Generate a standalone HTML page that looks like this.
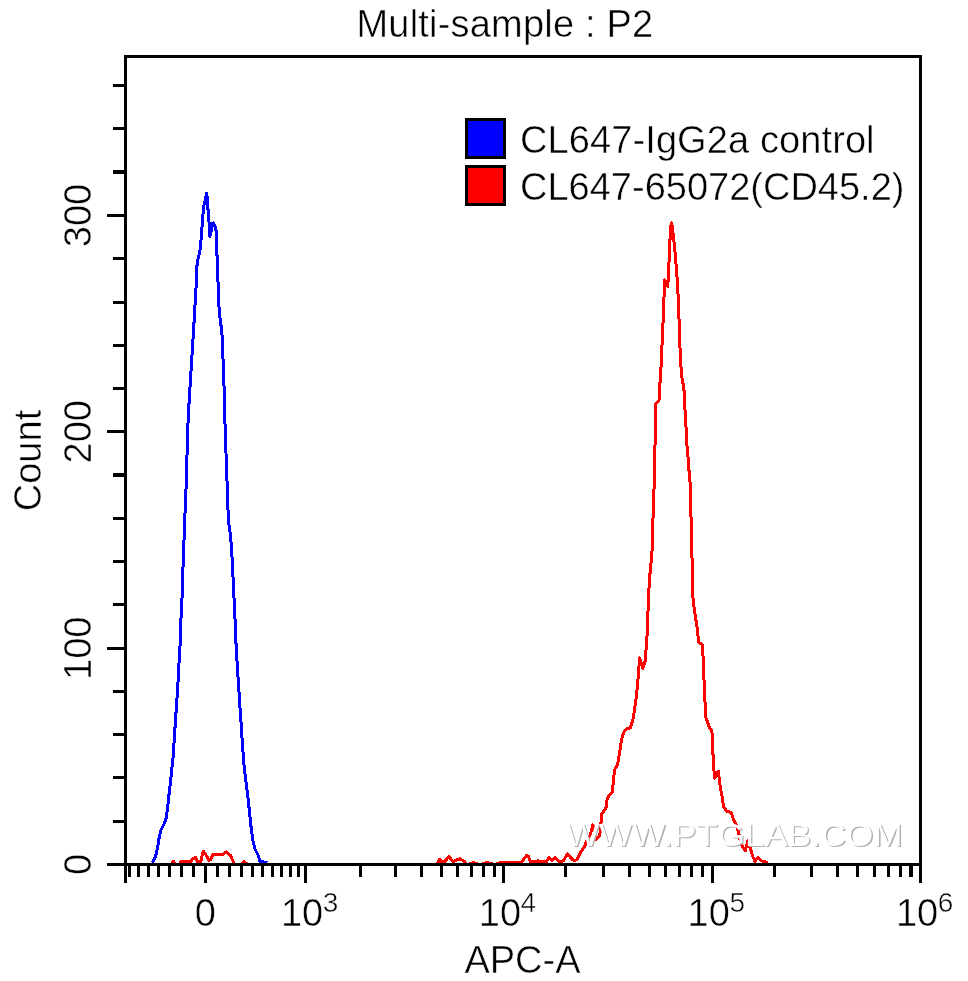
<!DOCTYPE html>
<html><head><meta charset="utf-8"><title>Multi-sample : P2</title>
<style>
html,body{margin:0;padding:0;background:#fff;}
svg{display:block;}
text{font-family:"Liberation Sans",Arial,sans-serif;font-size:38px;fill:#000;stroke:#fff;stroke-width:0.5px;}
.wm text{stroke:none;}
</style></head><body>
<svg width="968" height="981" viewBox="0 0 968 981">
<rect width="968" height="981" fill="#fff"/>
<text x="356.5" y="37" letter-spacing="0.2">Multi-sample : P2</text>
<polyline shape-rendering="crispEdges" fill="none" stroke="#0000ff" stroke-width="3" stroke-linejoin="round" points="152.3,862.8 155.6,856.2 157.6,847.6 159.2,837.4 161.0,830.2 163.9,824.4 166.0,818.6 167.5,808.5 168.9,795.5 170.7,779.6 172.1,766.6 173.3,755.0 174.4,736.7 175.4,721.8 176.4,706.9 177.5,690.8 178.5,673.5 179.5,653.6 180.4,640.0 180.7,624.1 181.9,601.8 182.8,573.3 183.8,546.0 184.7,520.0 185.7,499.2 186.7,466.9 187.6,434.7 188.4,412.4 189.4,398.0 190.4,380.4 191.5,364.3 192.5,346.9 193.6,329.6 194.6,312.2 195.6,294.9 196.5,280.0 196.7,268.8 197.4,261.6 198.2,258.0 199.8,252.3 200.8,243.5 201.8,229.6 202.9,215.1 203.9,205.8 205.5,198.6 206.5,193.5 207.0,195.5 207.7,208.9 208.6,211.0 209.1,224.4 209.9,236.3 211.1,231.7 212.2,223.4 213.7,222.9 215.3,227.5 216.3,231.7 216.8,255.4 217.6,256.4 217.9,280.0 218.6,294.9 219.2,312.2 220.4,320.9 221.9,332.1 222.9,354.4 223.5,379.2 224.4,391.6 224.6,400.0 225.0,423.6 226.0,453.3 226.9,478.1 227.8,501.6 228.3,520.0 230.3,533.6 231.3,546.0 232.3,560.9 233.3,583.2 234.3,604.3 235.3,625.4 235.8,640.0 236.8,657.4 237.8,673.5 238.8,688.3 239.7,703.2 240.7,716.9 241.7,734.2 243.0,751.6 243.6,760.0 244.4,769.5 246.3,783.9 248.2,799.8 249.6,812.9 251.1,827.3 252.8,840.3 255.0,849.0 257.9,854.8 260.0,861.3 267.3,862.8"/>
<polyline shape-rendering="crispEdges" fill="none" stroke="#ff0000" stroke-width="3" stroke-linejoin="round" points="171.1,864.6 173.3,861.3 175.4,864.6 179.0,864.6 181.2,861.3 190.6,861.7 192.8,858.4 195.7,857.7 197.9,862.0 200.7,862.0 203.2,851.2 205.1,853.4 209.1,860.6 210.9,859.1 213.0,854.1 223.2,854.1 226.1,851.9 230.4,855.5 234.7,864.6 241.2,864.6 244.1,861.7 247.8,864.6 419.8,864.6 437.2,864.6 439.7,859.1 442.1,862.2 444.6,861.6 449.0,856.7 453.3,862.2 456.4,859.8 460.1,858.8 464.5,861.6 467.0,864.6 473.0,862.6 480.0,864.6 487.0,862.5 495.0,864.6 500.0,862.7 521.7,862.0 526.7,855.2 528.5,856.5 530.4,862.0 534.7,861.8 538.4,860.8 540.9,862.0 546.5,861.8 549.0,857.7 552.0,860.2 555.2,857.7 558.3,860.8 560.7,862.0 563.2,860.8 567.6,854.0 571.9,859.0 574.4,860.8 576.9,859.6 580.6,852.1 584.9,846.0 586.2,841.6 590.5,834.2 592.9,824.9 596.0,839.8 599.8,835.5 600.7,826.8 601.6,814.4 604.1,810.7 606.0,807.6 607.2,798.3 609.7,794.5 612.5,792.1 613.4,779.7 614.6,769.8 617.7,764.2 619.6,752.4 621.5,740.0 623.5,732.8 626.0,729.1 630.3,727.8 632.8,720.4 634.6,709.3 636.5,695.6 637.7,683.2 638.7,669.6 639.6,657.8 642.7,668.3 645.2,660.9 646.4,644.8 647.3,632.4 647.7,620.0 648.7,593.0 649.7,576.9 650.7,565.7 651.9,554.5 652.8,526.0 653.5,500.0 654.4,481.6 655.2,434.5 655.6,403.6 659.0,400.5 659.6,385.0 660.5,380.0 661.4,357.8 662.7,330.3 663.8,304.6 664.5,279.8 667.8,286.2 668.7,269.7 669.6,247.7 670.6,227.5 671.5,223.0 672.4,227.5 673.9,240.4 675.1,253.2 676.4,267.9 677.3,280.7 678.4,300.9 679.4,330.3 680.3,356.0 681.6,376.1 682.5,380.0 684.1,391.2 685.0,409.8 686.0,427.1 686.9,444.5 688.1,458.1 689.1,471.7 690.3,485.4 690.6,500.0 691.2,523.6 692.1,562.0 693.1,601.6 694.3,609.1 695.8,620.0 696.4,621.0 697.6,632.4 698.8,642.3 702.2,644.8 703.1,657.2 704.0,679.5 705.0,701.8 705.9,717.9 706.8,720.0 709.1,726.9 711.9,730.7 712.6,747.5 713.7,765.9 714.5,778.1 718.3,771.2 719.8,784.2 722.1,796.5 723.6,807.2 726.7,811.0 731.0,812.5 733.6,819.4 736.6,825.5 738.9,833.9 740.5,842.3 742.8,846.9 745.4,850.7 747.8,840.8 750.4,848.4 752.7,856.1 755.0,861.4 757.7,857.6 761.1,860.7 766.5,862.2 768.0,864.6"/>
<defs><filter id="wb" x="-5%" y="-20%" width="110%" height="140%"><feGaussianBlur stdDeviation="0.45"/></filter></defs>
<g class="wm">
<text transform="translate(567.3,847.3) scale(1.13,1)" filter="url(#wb)" style="font-size:31px;fill:#b0b0b0">WWW.PTGLAB.COM</text>
<text transform="translate(566,846.3) scale(1.13,1)" style="font-size:31px;fill:#ffffff">WWW.PTGLAB.COM</text>
</g>
<g fill="#000" shape-rendering="crispEdges">
<rect x="124" y="55" width="3" height="828" />
<rect x="919" y="55" width="3" height="828" />
<rect x="124" y="55" width="798" height="3" />
<rect x="107" y="863" width="815" height="3" />
<rect x="128" y="866" width="3" height="11" />
<rect x="137" y="866" width="3" height="11" />
<rect x="147" y="866" width="3" height="11" />
<rect x="157" y="866" width="3" height="11" />
<rect x="168" y="866" width="3" height="11" />
<rect x="180" y="866" width="3" height="11" />
<rect x="192" y="866" width="3" height="11" />
<rect x="216" y="866" width="3" height="11" />
<rect x="228" y="866" width="3" height="11" />
<rect x="240" y="866" width="3" height="11" />
<rect x="251" y="866" width="3" height="11" />
<rect x="261" y="866" width="3" height="11" />
<rect x="271" y="866" width="3" height="11" />
<rect x="280" y="866" width="3" height="11" />
<rect x="289" y="866" width="3" height="11" />
<rect x="297" y="866" width="3" height="11" />
<rect x="359" y="866" width="3" height="11" />
<rect x="394" y="866" width="3" height="11" />
<rect x="420" y="866" width="3" height="11" />
<rect x="440" y="866" width="3" height="11" />
<rect x="456" y="866" width="3" height="11" />
<rect x="470" y="866" width="3" height="11" />
<rect x="482" y="866" width="3" height="11" />
<rect x="493" y="866" width="3" height="11" />
<rect x="564" y="866" width="3" height="11" />
<rect x="602" y="866" width="3" height="11" />
<rect x="628" y="866" width="3" height="11" />
<rect x="648" y="866" width="3" height="11" />
<rect x="664" y="866" width="3" height="11" />
<rect x="678" y="866" width="3" height="11" />
<rect x="690" y="866" width="3" height="11" />
<rect x="701" y="866" width="3" height="11" />
<rect x="773" y="866" width="3" height="11" />
<rect x="810" y="866" width="3" height="11" />
<rect x="836" y="866" width="3" height="11" />
<rect x="856" y="866" width="3" height="11" />
<rect x="873" y="866" width="3" height="11" />
<rect x="887" y="866" width="3" height="11" />
<rect x="899" y="866" width="3" height="11" />
<rect x="909" y="866" width="4" height="11" />
<rect x="204" y="866" width="3" height="17" />
<rect x="304" y="866" width="3" height="17" />
<rect x="502" y="866" width="3" height="17" />
<rect x="711" y="866" width="3" height="17" />
<rect x="113" y="820" width="11" height="3" />
<rect x="113" y="776" width="11" height="3" />
<rect x="113" y="733" width="11" height="3" />
<rect x="113" y="690" width="11" height="3" />
<rect x="107" y="647" width="17" height="3" />
<rect x="113" y="603" width="11" height="3" />
<rect x="113" y="560" width="11" height="3" />
<rect x="113" y="517" width="11" height="3" />
<rect x="113" y="473" width="11" height="4" />
<rect x="107" y="430" width="17" height="3" />
<rect x="113" y="387" width="11" height="3" />
<rect x="113" y="344" width="11" height="3" />
<rect x="113" y="301" width="11" height="3" />
<rect x="113" y="257" width="11" height="3" />
<rect x="107" y="214" width="17" height="3" />
<rect x="113" y="170" width="11" height="4" />
<rect x="113" y="127" width="11" height="3" />
<rect x="113" y="84" width="11" height="3" />
</g>
<g shape-rendering="crispEdges">
<rect x="466.5" y="119.5" width="38" height="38" fill="#0000ff" stroke="#000" stroke-width="3"/>
<rect x="466.5" y="166.5" width="38" height="38" fill="#ff0000" stroke="#000" stroke-width="3"/>
</g>
<text x="520" y="153" letter-spacing="0.1">CL647-IgG2a control</text>
<text x="520" y="200">CL647-65072(CD45.2)</text>
<text transform="translate(91,864.5) rotate(-90)" text-anchor="middle">0</text>
<text transform="translate(91,648.2) rotate(-90)" text-anchor="middle">100</text>
<text transform="translate(91,431.8) rotate(-90)" text-anchor="middle">200</text>
<text transform="translate(91,215.5) rotate(-90)" text-anchor="middle">300</text>
<text transform="translate(41,460.5) rotate(-90)" text-anchor="middle">Count</text>
<text x="205.3" y="926" text-anchor="middle">0</text>
<text x="280.9" y="926">10<tspan dx="-0.5" dy="-14.5" style="font-size:28px">3</tspan></text>
<text x="478.8" y="926">10<tspan dx="-0.5" dy="-14.5" style="font-size:28px">4</tspan></text>
<text x="687.6" y="926">10<tspan dx="-0.5" dy="-14.5" style="font-size:28px">5</tspan></text>
<text x="895.9" y="926">10<tspan dx="-0.5" dy="-14.5" style="font-size:28px">6</tspan></text>
<text x="522.5" y="973" text-anchor="middle">APC-A</text>
</svg>
</body></html>
